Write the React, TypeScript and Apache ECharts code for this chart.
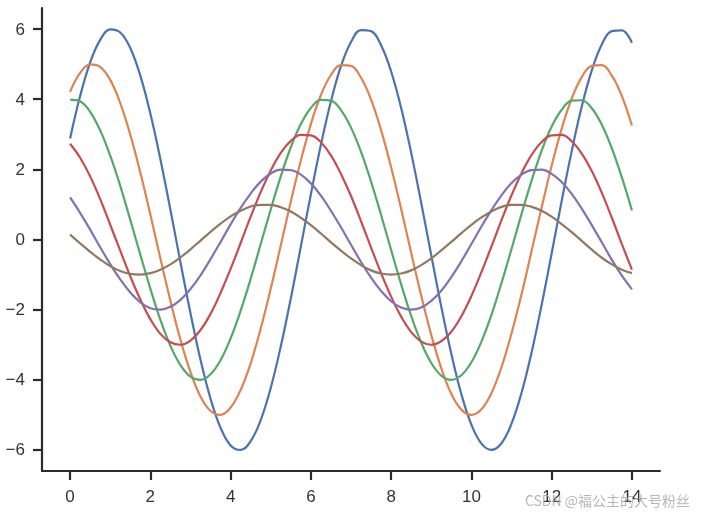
import React, { useEffect, useRef } from "react";
import * as echarts from "echarts";

const xValues = [
  0, 0.25, 0.5, 0.75, 1, 1.25, 1.5, 1.75, 2, 2.25, 2.5, 2.75, 3, 3.25, 3.5, 3.75,
  4, 4.25, 4.5, 4.75, 5, 5.25, 5.5, 5.75, 6, 6.25, 6.5, 6.75, 7, 7.25, 7.5, 7.75,
  8, 8.25, 8.5, 8.75, 9, 9.25, 9.5, 9.75, 10, 10.25, 10.5, 10.75, 11, 11.25, 11.5,
  11.75, 12, 12.25, 12.5, 12.75, 13, 13.25, 13.5, 13.75, 14,
];

const line1 = [
  2.88, 4.09, 5.05, 5.69, 5.99, 5.9, 5.46, 4.67, 3.59, 2.29, 0.85, -0.65, -2.1, -3.43,
  -4.54, -5.37, -5.87, -6.0, -5.75, -5.15, -4.23, -3.05, -1.68, -0.2, 1.29, 2.7, 3.94,
  4.94, 5.63, 5.97, 5.94, 5.54, 4.79, 3.75, 2.47, 1.04, -0.45, -1.92, -3.26, -4.41,
  -5.28, -5.82, -6.0, -5.81, -5.25, -4.37, -3.22, -1.87, -0.4, 1.1, 2.52, 3.79, 4.82,
  5.56, 5.94, 5.96, 5.61,
];
const line2 = [
  4.21, 4.75, 4.99, 4.92, 4.55, 3.89, 2.99, 1.91, 0.71, -0.54, -1.75, -2.86, -3.78,
  -4.48, -4.89, -5.0, -4.79, -4.29, -3.53, -2.54, -1.4, -0.17, 1.08, 2.25, 3.29, 4.12,
  4.69, 4.97, 4.95, 4.61, 3.99, 3.12, 2.06, 0.87, -0.38, -1.6, -2.72, -3.67, -4.4,
  -4.85, -5.0, -4.84, -4.38, -3.64, -2.68, -1.56, -0.33, 0.91, 2.1, 3.16, 4.02, 4.63,
  4.95, 4.97, 4.67, 4.09, 3.25,
];
const line3 = [
  3.99, 3.94, 3.64, 3.11, 2.39, 1.53, 0.56, -0.43, -1.4, -2.29, -3.03, -3.58, -3.91,
  -4.0, -3.84, -3.44, -2.82, -2.03, -1.12, -0.13, 0.86, 1.8, 2.63, 3.29, 3.75, 3.98,
  3.96, 3.69, 3.19, 2.5, 1.65, 0.7, -0.3, -1.28, -2.18, -2.94, -3.52, -3.88, -4.0,
  -3.87, -3.5, -2.91, -2.15, -1.24, -0.27, 0.73, 1.68, 2.53, 3.22, 3.7, 3.96, 3.97,
  3.74, 3.27, 2.6, 1.77, 0.83,
];
const line4 = [
  2.73, 2.33, 1.8, 1.15, 0.42, -0.32, -1.05, -1.71, -2.27, -2.69, -2.93, -3.0, -2.88,
  -2.58, -2.12, -1.52, -0.84, -0.1, 0.65, 1.35, 1.97, 2.47, 2.81, 2.98, 2.97, 2.77,
  2.4, 1.87, 1.24, 0.52, -0.23, -0.96, -1.63, -2.2, -2.64, -2.91, -3.0, -2.9, -2.63,
  -2.19, -1.61, -0.93, -0.2, 0.55, 1.26, 1.89, 2.41, 2.78, 2.97, 2.98, 2.8, 2.45,
  1.95, 1.33, 0.62, -0.13, -0.86,
];
const line5 = [
  1.2, 0.76, 0.28, -0.22, -0.7, -1.14, -1.51, -1.79, -1.96, -2.0, -1.92, -1.72, -1.41,
  -1.02, -0.56, -0.07, 0.43, 0.9, 1.31, 1.65, 1.88, 1.99, 1.98, 1.85, 1.6, 1.25, 0.82,
  0.35, -0.15, -0.64, -1.09, -1.47, -1.76, -1.94, -2.0, -1.94, -1.75, -1.46, -1.07,
  -0.62, -0.13, 0.37, 0.84, 1.26, 1.61, 1.85, 1.98, 1.99, 1.87, 1.64, 1.3, 0.88, 0.41,
  -0.08, -0.58, -1.03, -1.42,
];
const line6 = [
  0.14, -0.11, -0.35, -0.57, -0.76, -0.9, -0.98, -1.0, -0.96, -0.86, -0.71, -0.51,
  -0.28, -0.03, 0.22, 0.45, 0.66, 0.82, 0.94, 0.99, 0.99, 0.92, 0.8, 0.62, 0.41, 0.17,
  -0.08, -0.32, -0.54, -0.73, -0.88, -0.97, -1.0, -0.97, -0.88, -0.73, -0.54, -0.31,
  -0.07, 0.18, 0.42, 0.63, 0.8, 0.93, 0.99, 0.99, 0.93, 0.82, 0.65, 0.44, 0.21, -0.04,
  -0.29, -0.52, -0.71, -0.86, -0.96,
];

const allLines = [line1, line2, line3, line4, line5, line6];
const colors = ["#4C72B0", "#DD8452", "#55A868", "#C44E52", "#8172B3", "#937860"];
const xTickMin = 0;
const xTickMax = 14;
const xTickStep = 2;
const yTickMin = -6;
const yTickMax = 6;
const yTickStep = 2;
const margin = 0.05; // matplotlib default axis margin
const watermark = "CSDN @福公主的大号粉丝";

const fmt = (v: number) => (v < 0 ? "\u2212" + Math.abs(v) : String(v));

export default function App() {
  const ref = useRef<HTMLDivElement>(null);
  useEffect(() => {
    if (!ref.current) return;
    const chart = echarts.init(ref.current, undefined, { renderer: "svg" });
    const axisColor = "#2b2b2b";
    const W = 702;
    const H = 515;
    const g = { left: 42, right: 42, top: 8, bottom: 44 };
    const padX = ((W - g.left - g.right) * margin) / (1 + 2 * margin);
    const padY = ((H - g.top - g.bottom) * margin) / (1 + 2 * margin);
    const xSpan = xTickMax - xTickMin;
    const ySpan = yTickMax - yTickMin;
    const labelStyle = {
      color: "#333333",
      fontSize: 17,
      fontFamily: "Liberation Sans, Arial, sans-serif",
      margin: 17,
      formatter: fmt,
    };
    const tickStyle = { show: true, length: 9, lineStyle: { color: axisColor, width: 2.2 } };
    const hiddenLine = { show: true, onZero: false, lineStyle: { color: "rgba(0,0,0,0)", width: 1 } };
    chart.setOption({
      animation: false,
      grid: [
        { left: g.left, right: g.right, top: g.top, bottom: g.bottom },
        {
          left: g.left + padX,
          right: g.right + padX,
          top: g.top + padY,
          bottom: g.bottom + padY,
        },
      ],
      xAxis: [
        {
          gridIndex: 0,
          type: "value",
          min: xTickMin - xSpan * margin,
          max: xTickMax + xSpan * margin,
          axisLine: { show: true, onZero: false, lineStyle: { color: axisColor, width: 2.2 } },
          axisTick: { show: false },
          axisLabel: { show: false },
          splitLine: { show: false },
        },
        {
          gridIndex: 1,
          type: "value",
          position: "bottom",
          offset: padY,
          min: xTickMin,
          max: xTickMax,
          interval: xTickStep,
          axisLine: hiddenLine,
          axisTick: tickStyle,
          axisLabel: labelStyle,
          splitLine: { show: false },
        },
      ],
      yAxis: [
        {
          gridIndex: 0,
          type: "value",
          min: yTickMin - ySpan * margin,
          max: yTickMax + ySpan * margin,
          axisLine: { show: true, onZero: false, lineStyle: { color: axisColor, width: 2.2 } },
          axisTick: { show: false },
          axisLabel: { show: false },
          splitLine: { show: false },
        },
        {
          gridIndex: 1,
          type: "value",
          position: "left",
          offset: padX,
          min: yTickMin,
          max: yTickMax,
          interval: yTickStep,
          axisLine: hiddenLine,
          axisTick: tickStyle,
          axisLabel: labelStyle,
          splitLine: { show: false },
        },
      ],
      series: allLines.map((ys, i) => ({
        type: "line",
        xAxisIndex: 0,
        yAxisIndex: 0,
        data: ys.map((y, j) => [xValues[j], y]),
        showSymbol: false,
        smooth: 0.4,
        lineStyle: { color: colors[i], width: 2.2 },
        itemStyle: { color: colors[i] },
      })),
      graphic: [
        {
          type: "text",
          right: 12,
          top: 493,
          style: {
            text: watermark,
            fill: "rgba(170,170,170,0.85)",
            fontSize: 14,
            fontFamily: "Noto Sans CJK SC, sans-serif",
          },
          z: 100,
        },
      ],
    });
    return () => chart.dispose();
  }, []);
  return (
    <div
      ref={ref}
      style={{ position: "fixed", left: 0, top: 0, width: 702, height: 515 }}
    />
  );
}
